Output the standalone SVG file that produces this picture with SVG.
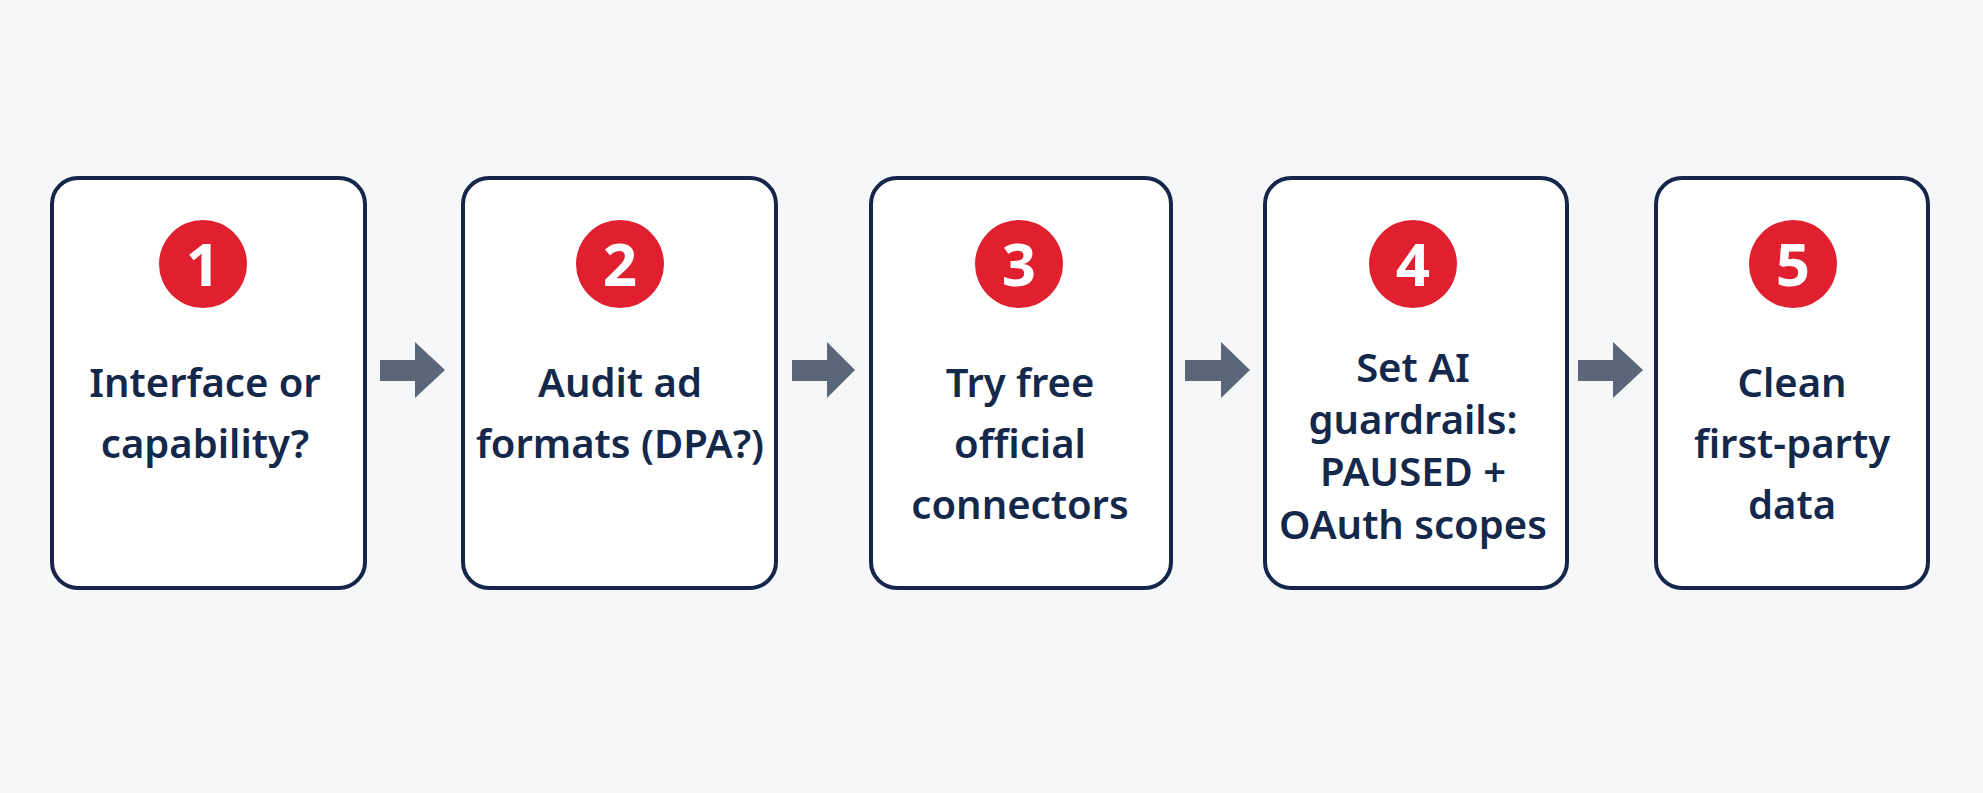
<svg xmlns="http://www.w3.org/2000/svg" width="1983" height="793" viewBox="0 0 1983 793">
<defs>
<style>
.box{fill:#ffffff;stroke:#15264a;stroke-width:4}
.badge{fill:#e0202e}
.num{font-family:"Noto Sans","Liberation Sans",sans-serif;font-weight:700;font-size:60px;fill:#ffffff;text-anchor:middle}
.lbl{font-family:"Noto Sans","Liberation Sans",sans-serif;font-weight:600;font-size:40px;fill:#13284a;text-anchor:middle}
.arr{fill:#5b6678}
</style>
</defs>
<rect x="0" y="0" width="1983" height="793" fill="#f6f7f9"/>
<g id="node1">
<rect class="box" x="52" y="178" width="313" height="410" rx="26"/>
<circle class="badge" cx="203" cy="264" r="44"/>
<text class="num" x="203" y="286">1</text>
<text class="lbl" x="205" y="397">Interface or</text>
<text class="lbl" x="205" y="458">capability?</text>
</g>
<g id="node2">
<rect class="box" x="463" y="178" width="313" height="410" rx="26"/>
<circle class="badge" cx="620" cy="264" r="44"/>
<text class="num" x="620" y="286">2</text>
<text class="lbl" x="620" y="397">Audit ad</text>
<text class="lbl" x="620" y="458">formats (DPA?)</text>
</g>
<g id="node3">
<rect class="box" x="871" y="178" width="300" height="410" rx="26"/>
<circle class="badge" cx="1019" cy="264" r="44"/>
<text class="num" x="1019" y="286">3</text>
<text class="lbl" x="1020" y="397">Try free</text>
<text class="lbl" x="1020" y="458">official</text>
<text class="lbl" x="1020" y="519">connectors</text>
</g>
<g id="node4">
<rect class="box" x="1265" y="178" width="302" height="410" rx="26"/>
<circle class="badge" cx="1413" cy="264" r="44"/>
<text class="num" x="1413" y="286">4</text>
<text class="lbl" x="1413" y="382">Set AI</text>
<text class="lbl" x="1413" y="434">guardrails:</text>
<text class="lbl" x="1413" y="486">PAUSED +</text>
<text class="lbl" x="1413" y="539">OAuth scopes</text>
</g>
<g id="node5">
<rect class="box" x="1656" y="178" width="272" height="410" rx="26"/>
<circle class="badge" cx="1793" cy="264" r="44"/>
<text class="num" x="1793" y="286">5</text>
<text class="lbl" x="1792" y="397">Clean</text>
<text class="lbl" x="1792" y="458">first-party</text>
<text class="lbl" x="1792" y="519">data</text>
</g>
<g id="connectors">
<polygon class="arr" points="380,360 415,360 415,342 445,370 415,398 415,381 380,381"/>
<polygon class="arr" points="792,360 827,360 827,342 855,370 827,398 827,381 792,381"/>
<polygon class="arr" points="1185,360 1221,360 1221,342 1250,370 1221,398 1221,381 1185,381"/>
<polygon class="arr" points="1578,360 1613,360 1613,342 1643,370 1613,398 1613,381 1578,381"/>
</g>
</svg>
